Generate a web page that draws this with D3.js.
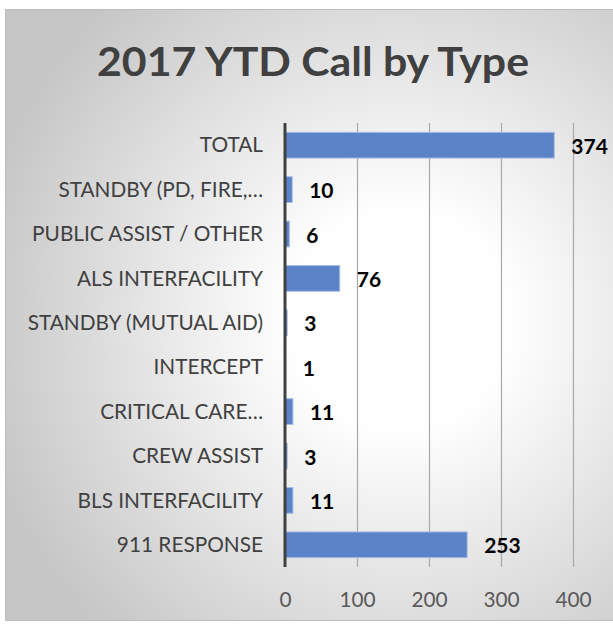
<!DOCTYPE html>
<html>
<head>
<meta charset="utf-8">
<script src="https://cdn.jsdelivr.net/npm/d3@7"></script>
<style>
  html, body { margin: 0; padding: 0; background: #ffffff; }
  svg { display: block; }
</style>
</head>
<body>
<svg id="chart" width="613" height="624"></svg>
<script>
const title = "2017 YTD Call by Type";
const categories = ["TOTAL", "STANDBY (PD, FIRE,…", "PUBLIC ASSIST / OTHER", "ALS INTERFACILITY",
  "STANDBY (MUTUAL AID)", "INTERCEPT", "CRITICAL CARE…", "CREW ASSIST", "BLS INTERFACILITY", "911 RESPONSE"];
const values = [374, 10, 6, 76, 3, 1, 11, 3, 11, 253];
const tickValues = [0, 100, 200, 300, 400];

const svg = d3.select("#chart");
const W = 613, H = 624;

// background radial gradient
const defs = svg.append("defs");
const grad = defs.append("radialGradient").attr("id", "bg")
  .attr("gradientUnits", "userSpaceOnUse")
  .attr("cx", 400).attr("cy", 320).attr("r", 430);
grad.append("stop").attr("offset", "0%").attr("stop-color", "#ffffff");
grad.append("stop").attr("offset", "25%").attr("stop-color", "#ffffff");
grad.append("stop").attr("offset", "100%").attr("stop-color", "#c6c6c6");

svg.append("rect").attr("x", 5.5).attr("y", 9.5).attr("width", W).attr("height", 611)
  .attr("fill", "url(#bg)").attr("stroke", "#bdbdbd").attr("stroke-width", 1);

// title
svg.append("text").attr("x", 97).attr("y", 76)
  .attr("font-family", "Lato, 'Open Sans', sans-serif").attr("font-weight", "bold")
  .attr("font-size", 41).attr("fill", "#404040")
  .attr("textLength", 432).attr("lengthAdjust", "spacingAndGlyphs")
  .text(title);

const x = d3.scaleLinear().domain([0, 400]).range([285, 573]);
const y = d3.scaleBand().domain(categories).range([123, 567]).paddingInner(0.42).paddingOuter(0.21);

// gridlines
const grid = svg.append("g").attr("transform", "translate(0,567)")
  .call(d3.axisBottom(x).tickValues(tickValues.slice(1)).tickSize(-444).tickFormat(""));
grid.select(".domain").remove();
grid.selectAll("line").attr("stroke", "#a9a9a9").attr("stroke-width", 1.2);

// bars
svg.append("g").selectAll("rect").data(values).join("rect")
  .attr("x", x(0))
  .attr("y", (d, i) => y(categories[i]))
  .attr("width", d => x(d) - x(0))
  .attr("height", y.bandwidth())
  .attr("fill", "#5b83c8")
  .attr("stroke", "#a7bde6").attr("stroke-width", 1);

// value labels
svg.append("g").selectAll("text").data(values).join("text")
  .attr("x", d => x(d) + 17)
  .attr("y", (d, i) => y(categories[i]) + y.bandwidth() / 2 + 8.5)
  .attr("font-family", "Lato, 'Open Sans', sans-serif").attr("font-weight", "bold")
  .attr("font-size", 21).attr("fill", "#000000")
  .text(d => d);

// category axis
const ya = svg.append("g").attr("transform", "translate(285,0)")
  .call(d3.axisLeft(y).tickSize(0).tickPadding(22));
ya.select(".domain").remove();
ya.selectAll("text").attr("font-family", "Lato, 'Open Sans', sans-serif")
  .attr("font-size", 20.8).attr("fill", "#404040").attr("dy", "0.35em");

// x tick labels
const xa = svg.append("g").attr("transform", "translate(0,567)")
  .call(d3.axisBottom(x).tickValues(tickValues).tickSize(0).tickPadding(25));
xa.select(".domain").remove();
xa.selectAll("text").attr("font-family", "Lato, 'Open Sans', sans-serif")
  .attr("font-size", 20.8).attr("fill", "#595959");

// vertical axis line
svg.append("line").attr("x1", x(0)).attr("x2", x(0)).attr("y1", 123).attr("y2", 567)
  .attr("stroke", "#404040").attr("stroke-width", 3);
</script>
</body>
</html>
